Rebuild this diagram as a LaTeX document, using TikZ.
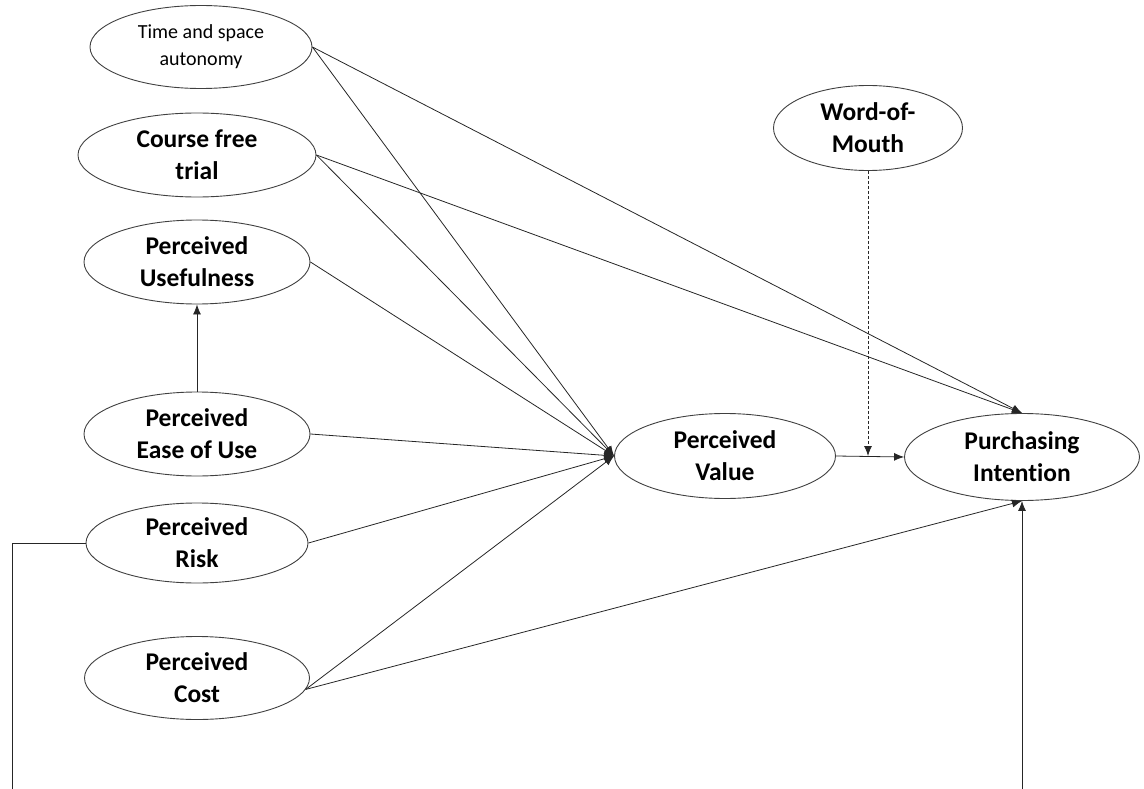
\documentclass[tikz,border=0pt]{standalone}
\usepackage{fontspec}
\setmainfont[Ligatures=NoCommon]{Carlito}
\usetikzlibrary{arrows.meta,shapes.geometric}

\tikzstyle{vert}=[ellipse,draw=black!75,line width=0.9pt,inner sep=0pt,align=center,font=\fontsize{25.5}{32}\selectfont\bfseries]
\tikzstyle{aedge}=[draw=black!85,line width=0.8pt,-{Latex[length=10pt,width=8pt]}]
\tikzstyle{dedge}=[aedge,dash pattern=on 3pt off 2pt]
\tikzstyle{pline}=[draw=black!85,line width=0.8pt]

\begin{document}
\begin{tikzpicture}[x=1pt,y=-1pt]
        \useasboundingbox (0,0) rectangle (1144,789);
        \draw (201,47)  node[vert,minimum width=222pt,minimum height=83pt,font=\fontsize{20}{27}\selectfont](time){Time and space\\autonomy};
        \draw (197,155) node[vert,minimum width=238pt,minimum height=84pt](trial){Course free\\trial};
        \draw (197,262) node[vert,minimum width=226pt,minimum height=84pt](useful){Perceived\\Usefulness};
        \draw (197,434) node[vert,minimum width=226pt,minimum height=84pt](ease){Perceived\\Ease of Use};
        \draw (197,543) node[vert,minimum width=222pt,minimum height=80pt](risk){Perceived\\Risk};
        \draw (197,678) node[vert,minimum width=225pt,minimum height=83pt](cost){Perceived\\Cost};
        \draw (725,456) node[vert,minimum width=221pt,minimum height=85pt](value){Perceived\\Value};
        \draw (1022,457) node[vert,minimum width=235pt,minimum height=87pt](intent){Purchasing\\Intention};
        \draw (868,128) node[vert,minimum width=189pt,minimum height=85pt](wom){Word-of-\\Mouth};
        %
        \coordinate (join) at (wom.south |- value.east);
        \coordinate (rbase) at (12,789);
        \coordinate (ibase) at (intent.south |- 0,789);
        %
        \path
            (time.east)    edge[aedge]     (value.west)
            (time.east)    edge[aedge]     (intent.north)
            (trial.east)   edge[aedge]     (value.west)
            (trial.east)   edge[aedge]     (intent.north)
            (useful.east)  edge[aedge]     (value.west)
            (ease)         edge[aedge]     (useful)
            (ease.east)    edge[aedge]     (value.west)
            (risk.east)    edge[aedge]     (value.west)
            (cost.-6)      edge[aedge]     (value.west)
            (cost.-6)      edge[aedge]     (intent.south)
            (value.east)   edge[aedge]     (intent.west)
            (wom.south)    edge[dedge]     (join)
            (ibase)        edge[aedge]     (intent.south)
        ;
        \draw[pline] (risk.west) -| (rbase);
        %;
\end{tikzpicture}
\end{document}
